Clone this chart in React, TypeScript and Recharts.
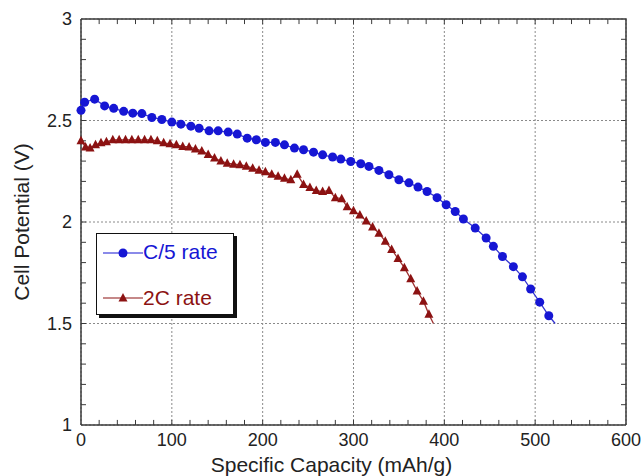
import React from 'react';
import { LineChart, Line, XAxis, YAxis, CartesianGrid, Legend } from 'recharts';

// C/5 rate discharge curve: capacity (mAh/g) and potential (V)
const c5Capacity = [0, 4, 15, 26, 36, 47, 57, 67, 78, 89, 100, 110, 121, 130, 141, 151, 162, 172, 183, 193, 203, 214, 224, 235, 245, 256, 266, 277, 286, 297, 308, 317, 328, 339, 350, 361, 371, 381, 392, 402, 412, 421, 434, 446, 454, 464, 476, 486, 495, 505, 515, 522];
const c5Potential = [2.55, 2.59, 2.605, 2.572, 2.56, 2.545, 2.536, 2.534, 2.515, 2.505, 2.492, 2.482, 2.472, 2.462, 2.449, 2.449, 2.443, 2.433, 2.413, 2.405, 2.392, 2.392, 2.38, 2.364, 2.356, 2.344, 2.331, 2.32, 2.31, 2.298, 2.287, 2.274, 2.254, 2.233, 2.208, 2.193, 2.172, 2.15, 2.12, 2.085, 2.052, 2.015, 1.97, 1.921, 1.88, 1.83, 1.78, 1.73, 1.67, 1.605, 1.538, 1.5];

// 2C rate discharge curve
const c2Capacity = [0, 5, 10, 16, 22, 28, 35, 42, 49, 56, 63, 70, 77, 84, 91, 98, 105, 112, 119, 126, 133, 140, 147, 154, 161, 168, 175, 182, 189, 196, 203, 210, 217, 224, 231, 238, 245, 252, 259, 266, 273, 280, 287, 293, 300, 307, 314, 321, 328, 335, 342, 349, 356, 363, 370, 377, 383, 388];
const c2Potential = [2.4, 2.37, 2.365, 2.38, 2.39, 2.395, 2.405, 2.405, 2.405, 2.405, 2.405, 2.405, 2.405, 2.4, 2.39, 2.385, 2.38, 2.372, 2.37, 2.36, 2.35, 2.333, 2.315, 2.3, 2.29, 2.285, 2.282, 2.275, 2.265, 2.255, 2.248, 2.235, 2.225, 2.215, 2.208, 2.235, 2.185, 2.17, 2.155, 2.15, 2.155, 2.12, 2.115, 2.075, 2.055, 2.035, 2.005, 1.975, 1.945, 1.905, 1.865, 1.82, 1.775, 1.72, 1.66, 1.61, 1.545, 1.5];

const xMajorTicks = [0, 100, 200, 300, 400, 500, 600];
const yMajorTicks = [1, 1.5, 2, 2.5, 3];
const xMinorTicks = [20, 40, 60, 80, 100, 120, 140, 160, 180, 200, 220, 240, 260, 280, 300, 320, 340, 360, 380, 400, 420, 440, 460, 480, 500, 520, 540, 560, 580];
const yMinorTicks = [1.1, 1.2, 1.3, 1.4, 1.5, 1.6, 1.7, 1.8, 1.9, 2, 2.1, 2.2, 2.3, 2.4, 2.5, 2.6, 2.7, 2.8, 2.9];

const c5Data = c5Capacity.map((x, i) => ({ x, v: c5Potential[i] }));
const c2Data = c2Capacity.map((x, i) => ({ x, v: c2Potential[i] }));

const X_MIN = 0;
const X_MAX = 600;
const Y_MIN = 1;
const Y_MAX = 3;
// inward tick length in data units (about 5px)
const TICK_X = 5.5;
const TICK_Y = 0.025;

type Pt = { x: number; v: number | null };
// short tick segments separated by null gaps, drawn through the chart scales
const bottomTicks: Pt[] = xMinorTicks.flatMap((t) => [{ x: t, v: Y_MIN }, { x: t, v: Y_MIN + TICK_Y }, { x: t, v: null }]);
const topTicks: Pt[] = xMinorTicks.flatMap((t) => [{ x: t, v: Y_MAX }, { x: t, v: Y_MAX - TICK_Y }, { x: t, v: null }]);
const leftTicks: Pt[] = yMinorTicks.flatMap((t) => [{ x: X_MIN, v: t }, { x: X_MIN + TICK_X, v: t }, { x: X_MIN, v: null }]);
const rightTicks: Pt[] = yMinorTicks.flatMap((t) => [{ x: X_MAX, v: t }, { x: X_MAX - TICK_X, v: t }, { x: X_MAX, v: null }]);
const frameEdge: Pt[] = [{ x: X_MIN, v: Y_MAX }, { x: X_MAX, v: Y_MAX }, { x: X_MAX, v: Y_MIN }];

const BLUE = '#1616d4';
const RED = '#8c1212';
const FONT = '"Liberation Sans", Arial, Helvetica, sans-serif';
const FRAME = '#3a3a3a';

const circleDot = (n: number) => (props: any) => {
  const { cx, cy, index } = props;
  if (index === n - 1) return <g key={`c-${index}`} />;
  return <circle key={`c-${index}`} cx={cx} cy={cy} r={4.5} fill={BLUE} />;
};

const triangleDot = (n: number) => (props: any) => {
  const { cx, cy, index } = props;
  if (index === n - 1) return <g key={`t-${index}`} />;
  return (
    <polygon
      key={`t-${index}`}
      points={`${cx},${cy - 5} ${cx - 4.5},${cy + 3.5} ${cx + 4.5},${cy + 3.5}`}
      fill={RED}
    />
  );
};

const LegendBox = () => (
  <div
    style={{
      position: 'relative',
      width: 136,
      height: 80,
      border: '1.5px solid #111',
      boxShadow: '3px 3px 0 #111',
      background: '#fff',
      fontFamily: FONT,
      fontSize: 21,
    }}
  >
    <svg style={{ position: 'absolute', left: 6, top: 12 }} width={40} height={14}>
      <line x1={0} y1={7} x2={40} y2={7} stroke={BLUE} strokeWidth={1.2} />
      <circle cx={20} cy={7} r={4.5} fill={BLUE} />
    </svg>
    <span style={{ position: 'absolute', left: 46, top: 4, color: BLUE, lineHeight: '28px' }}>C/5 rate</span>
    <svg style={{ position: 'absolute', left: 6, top: 57 }} width={40} height={14}>
      <line x1={0} y1={7} x2={40} y2={7} stroke={RED} strokeWidth={1.2} />
      <polygon points="20,2 15.5,10.5 24.5,10.5" fill={RED} />
    </svg>
    <span style={{ position: 'absolute', left: 46, top: 50, color: RED, lineHeight: '28px' }}>2C rate</span>
  </div>
);

const helperLine = (key: string, data: Pt[], width: number) => (
  <Line
    key={key}
    data={data}
    dataKey="v"
    stroke={FRAME}
    strokeWidth={width}
    dot={false}
    activeDot={false}
    connectNulls={false}
    legendType="none"
    isAnimationActive={false}
  />
);

const App: React.FC = () => {
  return (
    <div style={{ position: 'absolute', left: 0, top: 0, background: '#fff' }}>
      <LineChart width={641} height={476} margin={{ top: 19, right: 15, left: 0, bottom: 21 }}>
        <CartesianGrid stroke="#8a8a8a" strokeDasharray="2 2" />
        <XAxis
          dataKey="x"
          type="number"
          domain={[X_MIN, X_MAX]}
          ticks={xMajorTicks}
          height={30}
          tickLine={false}
          axisLine={{ stroke: FRAME, strokeWidth: 1.5 }}
          tick={{ fill: '#222', fontSize: 18, fontFamily: FONT }}
          label={{
            content: (p: any) => {
              const vb = p.viewBox;
              return (
                <text x={vb.x + vb.width / 2 - 22} y={vb.y + 47} textAnchor="middle" fill="#222" fontSize={21} fontFamily={FONT}>
                  Specific Capacity (mAh/g)
                </text>
              );
            },
          }}
        />
        <YAxis
          type="number"
          domain={[Y_MIN, Y_MAX]}
          ticks={yMajorTicks}
          width={81}
          tickLine={false}
          tickSize={6}
          tickMargin={3}
          axisLine={{ stroke: FRAME, strokeWidth: 1.5 }}
          tick={{ fill: '#222', fontSize: 18, fontFamily: FONT }}
          label={{
            content: (p: any) => {
              const vb = p.viewBox;
              const cx = vb.x + 21;
              const cy = vb.y + vb.height / 2;
              return (
                <text x={cx} y={cy} transform={`rotate(-90, ${cx}, ${cy})`} textAnchor="middle" dominantBaseline="central" fill="#222" fontSize={21} fontFamily={FONT}>
                  Cell Potential (V)
                </text>
              );
            },
          }}
        />
        {/* frame top/right edges and inward minor ticks */}
        {helperLine('frame', frameEdge, 1.5)}
        {helperLine('ticks-b', bottomTicks, 1)}
        {helperLine('ticks-t', topTicks, 1)}
        {helperLine('ticks-l', leftTicks, 1)}
        {helperLine('ticks-r', rightTicks, 1)}
        <Line
          data={c5Data}
          dataKey="v"
          name="C/5 rate"
          stroke="#3434d0"
          strokeWidth={1.3}
          dot={circleDot(c5Data.length)}
          activeDot={false}
          isAnimationActive={false}
        />
        <Line
          data={c2Data}
          dataKey="v"
          name="2C rate"
          stroke="#a03232"
          strokeWidth={1.3}
          dot={triangleDot(c2Data.length)}
          activeDot={false}
          isAnimationActive={false}
        />
        <Legend
          layout="horizontal"
          verticalAlign="middle"
          align="center"
          wrapperStyle={{ left: 96, top: 233, width: 'auto' }}
          content={() => <LegendBox />}
        />
      </LineChart>
    </div>
  );
};

export default App;
